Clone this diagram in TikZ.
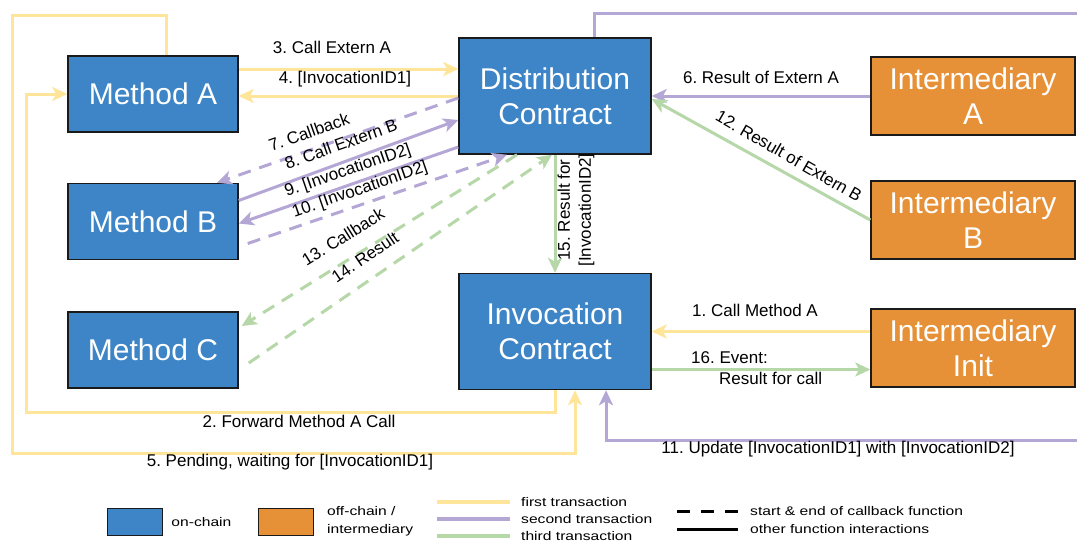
\documentclass[tikz,border=0pt]{standalone}
\usepackage{fontspec}
\setmainfont{Liberation Sans}
\newfontfamily\legendfont[FakeStretch=1.25]{Liberation Sans}
\usepackage{tikz}
\usetikzlibrary{arrows.meta,positioning,calc}
\frenchspacing
\definecolor{onchain}{HTML}{3D85C6}
\definecolor{offchain}{HTML}{E69138}
\definecolor{firsttx}{HTML}{FFE599}
\definecolor{secondtx}{HTML}{B4A7D6}
\definecolor{thirdtx}{HTML}{B6D7A8}
\definecolor{bk90}{HTML}{1A1A1A}
\tikzset{
  chainbox/.style={
    rectangle, draw=bk90, fill=#1, line width=1.5pt,
    minimum width=170pt, minimum height=76pt, text=white,
    font=\fontsize{30}{35}\selectfont, align=center,
    inner sep=0pt
  },
  chainbox/.default=onchain,
  contractbox/.style={chainbox, minimum width=192pt, minimum height=116pt},
  interbox/.style={chainbox=offchain, minimum width=204pt, minimum height=78pt},
  txarrow/.style={
    -{Stealth[length=15pt,width=14pt,inset=4pt]}, line width=3pt, color=#1
  },
  txarrow/.default=firsttx,
  txline/.style={line width=4pt, color=#1},
  txline/.default=firsttx,
  callback/.style={dash pattern=on 13pt off 9pt},
  msg/.style={font=\fontsize{17}{21}\selectfont, inner sep=0pt, align=center},
  legtext/.style={font=\legendfont\fontsize{12.5}{18}\selectfont,
    inner sep=0pt, align=left, anchor=west},
  legbox/.style={rectangle, draw=bk90, fill=#1, line width=1.5pt,
    minimum width=55pt, minimum height=27pt},
}

\begin{document}
\begin{tikzpicture}[x=1pt, y=-1pt]
  \useasboundingbox[fill=white] (0,0) rectangle (1077,542);

  % on-chain
  \node[chainbox] (ma) at (153,94) {Method A};
  \node[chainbox, below=50pt of ma] (mb) {Method B};
  \node[chainbox, below=51pt of mb] (mc) {Method C};
  \node[contractbox] (dc) at (555,96) {Distribution\\Contract};
  \node[contractbox, below=118pt of dc] (ic) {Invocation\\Contract};

  % off-chain
  \node[interbox] (ia) at (973,96) {Intermediary\\A};
  \node[interbox] (ib) at (973,220) {Intermediary\\B};
  \node[interbox] (ii) at (973,348) {Intermediary\\Init};

  \coordinate (nw) at (12,15);
  \coordinate (ne) at (1090,13);

  % first transaction
  \draw[txarrow] (ii.west |- ic.east) -- (ic.east);
  \draw[txarrow] (ic.south) -- ++(0,22) -| ($(ma.west)+(-41,0)$) -- (ma.west);
  \draw[txarrow] ([yshift=25pt]ma.east) -- ([yshift=25pt]ma.east -| dc.west);
  \draw[txarrow] (dc.west) -- (dc.west -| ma.east);
  \draw[txarrow] ([xshift=13pt]ma.north) |- (nw) |- ([xshift=20pt,yshift=-63pt]ic.south) -- ([xshift=20pt]ic.south);

  % second transaction
  \draw[txarrow=secondtx] (ia.west) -- (ia.west -| dc.east);
  \draw[txarrow=secondtx, callback] ([yshift=-2pt]dc.west) -- ([xshift=64pt]mb.north);
  \draw[txarrow=secondtx] ([yshift=21pt]mb.east) -- ([yshift=-24pt]dc.west);
  \draw[txarrow=secondtx] ([yshift=-51pt]dc.west) -- ([yshift=-2pt]mb.east);
  \draw[txarrow=secondtx, callback] ([xshift=9pt,yshift=-22pt]mb.east) -- ([xshift=-48pt]dc.south);
  \draw[txarrow=secondtx] ([xshift=39pt]dc.north) |- (ne) |- ([xshift=51pt,yshift=-50pt]ic.south) -- ([xshift=51pt]ic.south);

  % third transaction
  \draw[txarrow=thirdtx] (ib.west) -- ([yshift=-3pt]dc.east);
  \draw[txarrow=thirdtx, callback] ([xshift=-38pt]dc.south) -- ([xshift=3pt,yshift=24pt]mc.east);
  \draw[txarrow=thirdtx, callback] ([xshift=10pt,yshift=-13pt]mc.east) -- ([xshift=-3pt]dc.south);
  \draw[txarrow=thirdtx] (dc.south) -- (ic.north);
  \draw[txarrow=thirdtx] ([yshift=-38pt]ic.east) -- ([yshift=-38pt]ic.east -| ii.west);

  % labels
  \node[msg] (l1) at (755,310) {1. Call Method A};
  \node[msg] (l2) at (299,421) {2. Forward Method A Call};
  \node[msg] (l3) at (332,47) {3. Call Extern A};
  \node[msg] (l4) at (345,79) {4. [InvocationID1]};
  \node[msg] (l5) at (290,462) {5. Pending, waiting for [InvocationID1]};
  \node[msg] (l6) at (761,77) {6. Result of Extern A};
  \node[msg, rotate=19.5] (l7) at (309,132) {7. Callback};
  \node[msg, rotate=19.5] (l8) at (341,144) {8. Call Extern B};
  \node[msg, rotate=19] (l9) at (348,171) {9. [InvocationID2]};
  \node[msg, rotate=19] (l10) at (360,190) {10. [InvocationID2]};
  \node[msg] (l11) at (838,449) {11. Update [InvocationID1] with [InvocationID2]};
  \node[msg, rotate=-30] (l12) at (789,156) {12. Result of Extern B};
  \node[msg, rotate=32] (l13) at (343,237) {13. Callback};
  \node[msg, rotate=34] (l14) at (365,257) {14. Result};
  \node[msg, rotate=90] (l15) at (576,210) {15. Result for\\{[InvocationID2]}};
  \node[msg, align=left, anchor=west] (l16) at (691,368) {16. Event:\\\hspace*{28pt}Result for call};

  % legend
  \node[legbox=onchain] (lgon) at (135,522) {};
  \node[legtext, right=8pt of lgon] (lgontext) {on-chain};
  \node[legbox=offchain] (lgoff) at (286,522) {};
  \node[legtext] (lgofftext) at (327,521) {off-chain /\\intermediary};
  \node[legtext] (lg1) at (521,502) {first transaction};
  \node[legtext] (lg2) at (521,519) {second transaction};
  \node[legtext] (lg3) at (521,536) {third transaction};
  \draw[txline=firsttx] ([xshift=-11pt]lg1.west) -- ++(-73,0);
  \draw[txline=secondtx] ([xshift=-11pt]lg2.west) -- ++(-73,0);
  \draw[txline=thirdtx] ([xshift=-11pt]lg3.west) -- ++(-73,0);
  \node[legtext] (lgcb) at (750,511) {start \& end of callback function};
  \node[legtext] (lgfn) at (750,529) {other function interactions};
  \draw[line width=3pt, dash pattern=on 13pt off 11pt] ([xshift=-12pt]lgcb.west) -- ++(-61,0);
  \draw[line width=3pt] ([xshift=-12pt]lgfn.west) -- ++(-61,0);
\end{tikzpicture}
\end{document}
